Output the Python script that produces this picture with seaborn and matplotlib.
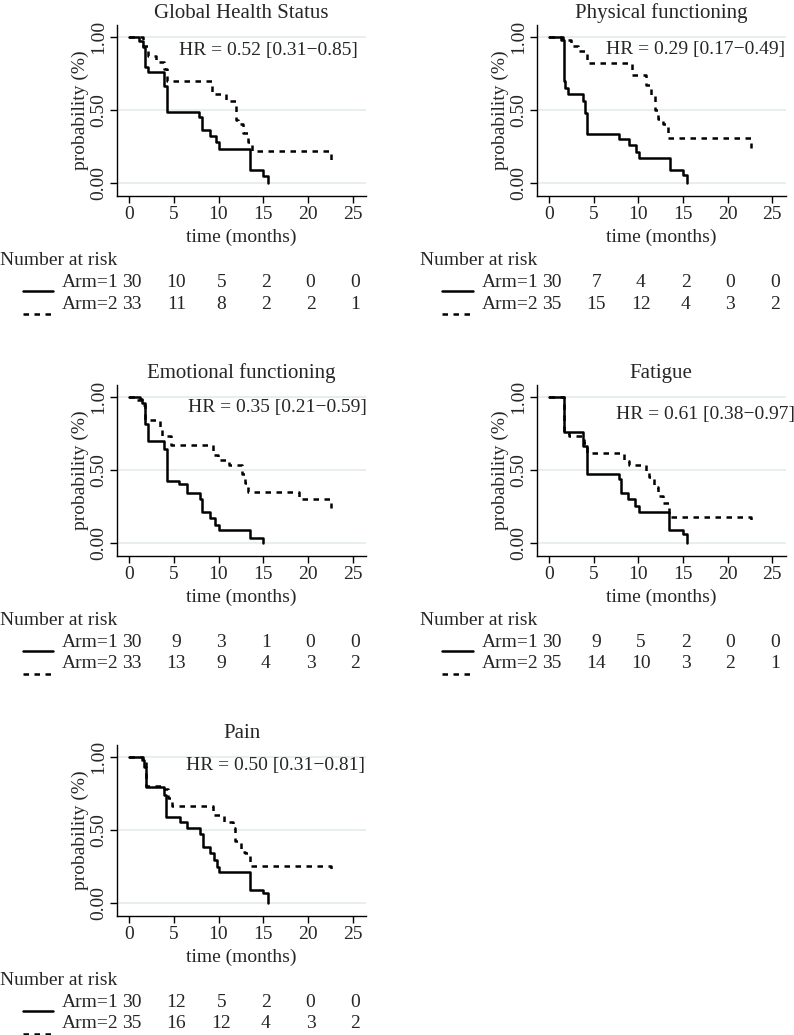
import numpy as np
import pandas as pd
import seaborn as sns
import matplotlib.pyplot as plt

# Kaplan-Meier step curves (time in months, survival prob)
titles = ["Global Health Status", "Physical functioning", "Emotional functioning", "Fatigue", "Pain"]
hr_labels = ["HR = 0.52 [0.31\u22120.85]", "HR = 0.29 [0.17\u22120.49]", "HR = 0.35 [0.21\u22120.59]",
             "HR = 0.61 [0.38\u22120.97]", "HR = 0.50 [0.31\u22120.81]"]

ghs_t1 = [0, 1.1, 1.6, 1.75, 2.1, 3.85, 4.2, 7.8, 8.1, 9.0, 9.7, 10.0, 13.5, 15.0, 15.5]
ghs_s1 = [1.0, 0.97, 0.93, 0.79, 0.757, 0.66, 0.484, 0.45, 0.36, 0.32, 0.28, 0.235, 0.09, 0.05, 0.0]
ghs_t2 = [0, 1.6, 2.1, 3.05, 3.85, 4.25, 9.3, 10.8, 11.95, 12.2, 12.7, 13.35, 13.8, 22.6]
ghs_s2 = [1.0, 0.94, 0.87, 0.83, 0.78, 0.70, 0.61, 0.557, 0.43, 0.40, 0.34, 0.28, 0.218, 0.156]

pf_t1 = [0, 1.4, 1.65, 1.85, 2.1, 3.85, 4.1, 4.25, 7.8, 9.0, 9.7, 10.05, 13.5, 15.0, 15.5]
pf_s1 = [1.0, 0.98, 0.70, 0.65, 0.61, 0.56, 0.48, 0.335, 0.30, 0.26, 0.21, 0.17, 0.085, 0.055, 0.0]
pf_t2 = [0, 1.55, 2.5, 3.25, 4.25, 9.35, 10.85, 11.4, 11.9, 12.2, 12.8, 13.35, 22.6]
pf_s2 = [1.0, 0.975, 0.94, 0.90, 0.817, 0.74, 0.67, 0.60, 0.50, 0.44, 0.40, 0.305, 0.236]

ef_t1 = [0, 1.2, 1.45, 1.75, 2.1, 3.85, 4.25, 5.6, 6.5, 7.9, 8.2, 9.0, 9.65, 10.05, 13.5, 15.0]
ef_s1 = [1.0, 0.985, 0.96, 0.81, 0.70, 0.64, 0.42, 0.40, 0.34, 0.30, 0.21, 0.17, 0.12, 0.085, 0.03, 0.0]
ef_t2 = [0, 0.8, 1.4, 1.75, 3.5, 3.7, 4.7, 9.35, 9.9, 11.2, 12.6, 13.0, 13.3, 19.0, 22.6]
ef_s2 = [1.0, 0.98, 0.94, 0.84, 0.77, 0.73, 0.67, 0.60, 0.57, 0.535, 0.47, 0.41, 0.35, 0.30, 0.236]

fa_t1 = [0, 1.7, 3.85, 4.25, 7.85, 8.1, 8.9, 9.65, 10.05, 13.45, 15.0, 15.5]
fa_s1 = [1.0, 0.76, 0.66, 0.47, 0.435, 0.34, 0.30, 0.25, 0.21, 0.087, 0.06, 0.0]
fa_t2 = [0, 1.75, 2.3, 3.95, 4.3, 8.4, 9.0, 10.85, 11.2, 11.8, 12.2, 12.8, 13.4, 22.6]
fa_s2 = [1.0, 0.75, 0.73, 0.68, 0.615, 0.56, 0.53, 0.49, 0.45, 0.385, 0.32, 0.27, 0.18, 0.156]

pa_t1 = [0, 1.4, 1.65, 1.85, 3.85, 4.15, 5.65, 6.5, 7.9, 8.25, 9.05, 9.5, 9.8, 10.05, 13.5, 15.0, 15.5]
pa_s1 = [1.0, 0.98, 0.93, 0.79, 0.74, 0.586, 0.55, 0.51, 0.47, 0.38, 0.34, 0.29, 0.245, 0.21, 0.086, 0.064, 0.0]
pa_t2 = [0, 1.55, 1.9, 3.8, 4.3, 4.85, 9.4, 10.6, 11.6, 11.9, 12.5, 13.0, 13.5, 22.6]
pa_s2 = [1.0, 0.97, 0.80, 0.78, 0.72, 0.66, 0.60, 0.55, 0.51, 0.42, 0.35, 0.34, 0.25, 0.23]

# number at risk
risk_times = [0, 5, 10, 15, 20, 25]
ghs_r1, ghs_r2 = [30, 10, 5, 2, 0, 0], [33, 11, 8, 2, 2, 1]
pf_r1, pf_r2 = [30, 7, 4, 2, 0, 0], [35, 15, 12, 4, 3, 2]
ef_r1, ef_r2 = [30, 9, 3, 1, 0, 0], [33, 13, 9, 4, 3, 2]
fa_r1, fa_r2 = [30, 9, 5, 2, 0, 0], [35, 14, 10, 3, 2, 1]
pa_r1, pa_r2 = [30, 12, 5, 2, 0, 0], [35, 16, 12, 4, 3, 2]

curves = [(ghs_t1, ghs_s1, ghs_t2, ghs_s2), (pf_t1, pf_s1, pf_t2, pf_s2), (ef_t1, ef_s1, ef_t2, ef_s2),
          (fa_t1, fa_s1, fa_t2, fa_s2), (pa_t1, pa_s1, pa_t2, pa_s2)]
risks = [(ghs_r1, ghs_r2), (pf_r1, pf_r2), (ef_r1, ef_r2), (fa_r1, fa_r2), (pa_r1, pa_r2)]

# layout (figure fractions) and HR label spots
ax_rects = [(0.1474, 0.8106, 0.3136, 0.1652), (0.6760, 0.8106, 0.3136, 0.1652),
            (0.1474, 0.4628, 0.3136, 0.1652), (0.6760, 0.4628, 0.3136, 0.1652),
            (0.1474, 0.1150, 0.3136, 0.1652)]
hr_pos = [(5.6, 0.906), (6.4, 0.91), (6.6, 0.924), (7.5, 0.876), (6.4, 0.943)]

sns.set_theme(style="white")
plt.rcParams['font.family'] = ['Liberation Serif', 'DejaVu Serif']
plt.rcParams['axes.unicode_minus'] = True

fig = plt.figure(figsize=(7.94, 10.35), dpi=100)
grid_col = "#e1eaeb"
fs = 14

for i in range(5):
    ax = fig.add_axes(ax_rects[i])
    t1, s1, t2, s2 = curves[i]
    df = pd.concat([pd.DataFrame({"time": t1, "surv": s1, "arm": "Arm=1"}),
                    pd.DataFrame({"time": t2, "surv": s2, "arm": "Arm=2"})])
    for yv in [0, 0.5, 1]:
        ax.axhline(yv, color=grid_col, lw=1.1, zorder=0)
    sns.lineplot(data=df, x="time", y="surv", style="arm", estimator=None,
                 drawstyle="steps-post", color="black", linewidth=1.8,
                 dashes={"Arm=1": "", "Arm=2": (2.2, 2.2)}, legend=False, ax=ax)

    ax.set_xlim(-1.35, 26.5)
    ax.set_ylim(-0.09, 1.08)
    sns.despine(ax=ax)
    for sp in ["left", "bottom"]:
        ax.spines[sp].set_color("black")
        ax.spines[sp].set_linewidth(1.0)
    ax.set_xticks(risk_times)
    ax.set_xticklabels([str(v) for v in risk_times], fontsize=fs)
    ax.set_yticks([0, 0.5, 1])
    ax.set_yticklabels(["0.00", "0.50", "1.00"], fontsize=fs, rotation=90, va="center")
    ax.tick_params(axis="both", direction="out", length=5, width=1, color="black", pad=2, left=True, bottom=True)
    ax.set_xlabel("time (months)", fontsize=fs, labelpad=4)
    ax.set_ylabel("probability (%)", fontsize=fs, labelpad=1)
    ax.set_title(titles[i], fontsize=15, pad=5)
    ax.text(hr_pos[i][0], hr_pos[i][1], hr_labels[i], fontsize=fs, ha="left", va="center")

    # number at risk table
    r1, r2 = risks[i]
    ax.text(-14.4, -0.534, "Number at risk", fontsize=fs, ha="left", va="center", clip_on=False)
    ax.text(-7.5, -0.685, "Arm=1", fontsize=fs, ha="left", va="center", clip_on=False)
    ax.text(-7.5, -0.829, "Arm=2", fontsize=fs, ha="left", va="center", clip_on=False)
    for tx, n1, n2 in zip(risk_times, r1, r2):
        ax.text(tx + 0.3, -0.685, str(n1), fontsize=fs, ha="center", va="center", clip_on=False)
        ax.text(tx + 0.3, -0.829, str(n2), fontsize=fs, ha="center", va="center", clip_on=False)
    ax.plot([-11.9, -8.5], [-0.74, -0.74], color="black", lw=1.8, clip_on=False)
    ax.plot([-11.9, -8.5], [-0.897, -0.897], color="black", lw=1.8, dashes=(2.2, 2.2), clip_on=False)

fig.savefig("out.png", dpi=100)
